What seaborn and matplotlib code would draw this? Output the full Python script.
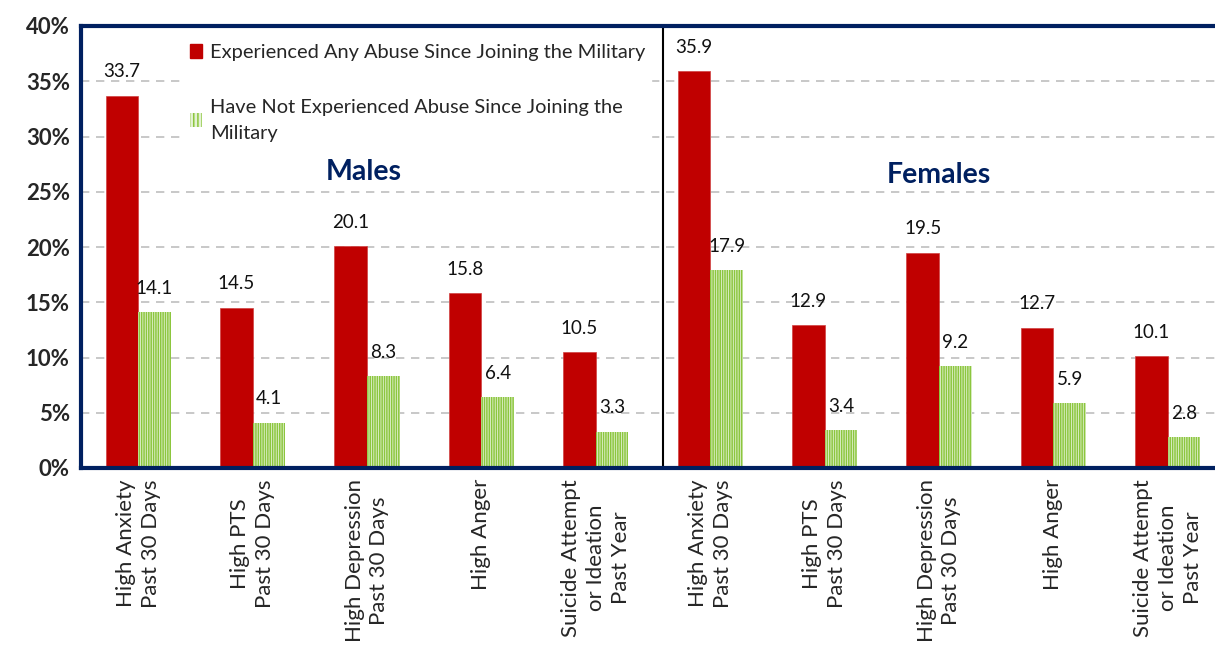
import pandas as pd
import numpy as np
import matplotlib
matplotlib.use("Agg")
import matplotlib.pyplot as plt
import seaborn as sns
from matplotlib.patches import Patch

# data
categories = ["High Anxiety\nPast 30 Days", "High PTS\nPast 30 Days", "High Depression\nPast 30 Days",
              "High Anger", "Suicide Attempt\nor Ideation\nPast Year"]
groups = ["Males", "Females"]
abused_males = [33.7, 14.5, 20.1, 15.8, 10.5]
not_abused_males = [14.1, 4.1, 8.3, 6.4, 3.3]
abused_females = [35.9, 12.9, 19.5, 12.7, 10.1]
not_abused_females = [17.9, 3.4, 9.2, 5.9, 2.8]
series = ["Experienced Any Abuse Since Joining the Military",
          "Have Not Experienced Abuse Since Joining the\nMilitary"]

rows = []
for g, a, n in [("Males", abused_males, not_abused_males), ("Females", abused_females, not_abused_females)]:
    for i, c in enumerate(categories):
        key = g + "|" + c
        rows.append((key, c, series[0], a[i]))
        rows.append((key, c, series[1], n[i]))
df = pd.DataFrame(rows, columns=["key", "label", "series", "value"])
order = list(dict.fromkeys(df["key"]))

sns.set_style("white")
plt.rcParams['font.family'] = ['Lato', 'DejaVu Sans']
plt.rcParams['hatch.linewidth'] = 1.1
plt.rcParams['hatch.color'] = '#8CC63E'

red = "#C00000"
navy = "#002060"
light_green = "#E4F2D4"
stripe = "|||||||"

fig = plt.figure(figsize=(12.15, 6.48), dpi=100)
ax = fig.add_axes([81 / 1215, 180 / 648, 1144 / 1215, 442 / 648])

sns.barplot(data=df, x="key", y="value", hue="series", order=order, hue_order=series,
            palette=[red, light_green], saturation=1, width=0.57, gap=0, legend=False, ax=ax)

for cont_i, cont in enumerate(ax.containers):
    for bar in cont:
        if cont_i == 1:
            bar.set_hatch(stripe)
            bar.set_edgecolor("#8CC63E")
            bar.set_linewidth(0)
        else:
            bar.set_edgecolor("#D04040")
            bar.set_linewidth(0.5)
    ax.bar_label(cont, fmt="%.1f", padding=11, fontsize=13.5, color="#111111")

ax.set_ylim(0, 40)
ax.set_xlim(-0.5, 9.5)
ax.set_yticks(np.arange(0, 41, 5))
ax.set_yticklabels([f"{v}%" for v in range(0, 41, 5)], fontsize=16, fontweight="bold")
ax.yaxis.grid(True, linestyle=(0, (5, 4)), color="#BFBFBF", linewidth=1.2)
ax.set_axisbelow(True)
ax.set_xticks(range(len(order)))
ax.set_xticklabels([k.split("|")[1] for k in order],
                   rotation=90, fontsize=16, va="top", ha="center", multialignment="center")
for lbl in ax.get_xticklabels():
    lbl.set_linespacing(1.3)
ax.tick_params(axis="both", length=0, pad=8)
ax.set_xlabel("")
ax.set_ylabel("")

for s in ["left", "top", "bottom"]:
    ax.spines[s].set_color(navy)
    ax.spines[s].set_linewidth(3)
ax.spines["right"].set_visible(False)

ax.axvline(4.59, color="black", linewidth=1.5)
ax.text(1.97, 26.8, "Males", fontsize=20.5, fontweight="bold", color=navy, ha="center", va="center")
ax.text(7.0, 26.5, "Females", fontsize=20.5, fontweight="bold", color=navy, ha="center", va="center")

handles = [Patch(facecolor=red, edgecolor=red),
           Patch(facecolor=light_green, hatch="||||", edgecolor="#8CC63E", linewidth=0)]
leg = ax.legend(handles, series, loc="upper left", bbox_to_anchor=(0.081, 0.995), frameon=True,
                facecolor="white", edgecolor="white", framealpha=1, fontsize=14.4,
                handlelength=0.6, handleheight=0.7, handletextpad=0.4, labelspacing=1.9,
                borderpad=0.3)
for t in leg.get_texts():
    t.set_linespacing(1.6)

fig.savefig("out.png", dpi=100)
